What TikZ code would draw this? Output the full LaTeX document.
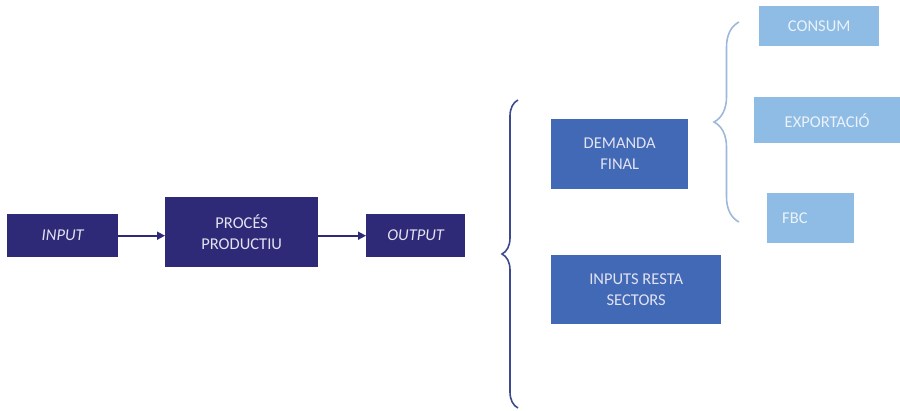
\documentclass[tikz,border=0pt]{standalone}
\usepackage{fontspec}
\setmainfont{Carlito}
\usetikzlibrary{arrows.meta,decorations.pathreplacing}
\definecolor{navy}{HTML}{2E2A78}
\definecolor{midblue}{HTML}{4169B5}
\definecolor{lightblue}{HTML}{8FBCE4}
\definecolor{bracedark}{HTML}{3D4B8E}
\definecolor{bracelight}{HTML}{9DB8DA}
\definecolor{darktext}{HTML}{E2E2F2}
\definecolor{lighttext}{HTML}{EAF2FB}
\tikzset{
  box/.style={draw=none, font=\fontsize{16.5}{21}\selectfont, align=center, inner sep=0pt},
  darkbox/.style={box, fill=navy, text=darktext},
  midbox/.style={box, fill=midblue, text=darktext},
  lightbox/.style={box, fill=lightblue, text=lighttext},
  flow/.style={draw=navy, line width=1.6pt, -{Triangle[length=8pt,width=8pt]}},
  bigbrace/.style={draw=bracedark, line width=1.6pt, decorate, decoration={brace, amplitude=16pt}},
  smallbrace/.style={draw=bracelight, line width=1.6pt, decorate, decoration={brace, amplitude=25pt}}
}
\begin{document}
\begin{tikzpicture}[x=1pt,y=-1pt]
\useasboundingbox (0,0) rectangle (900,410);
\node[darkbox, minimum width=111pt, minimum height=43pt, anchor=north west] (input) at (7,214) {\itshape INPUT};
\node[darkbox, minimum width=153pt, minimum height=70pt, anchor=north west] (proc) at (165,197) {PROCÉS\\PRODUCTIU};
\node[darkbox, minimum width=99pt, minimum height=43pt, anchor=north west] (output) at (366,214) {\itshape OUTPUT};
\draw[flow] (input.east) -- (proc.west |- input.east);
\draw[flow] (proc.east |- output.west) -- (output.west);

\coordinate (b1top) at (518,100);
\coordinate (b1bot) at (518,408);
\draw[bigbrace] (b1bot) -- (b1top);

\node[midbox, minimum width=137pt, minimum height=70pt, anchor=north west] (demanda) at (551,119) {DEMANDA\\FINAL};
\node[midbox, minimum width=170pt, minimum height=69pt, anchor=north west] (inputs) at (551,255) {INPUTS RESTA\\SECTORS};

\coordinate (b2top) at (739,22);
\coordinate (b2bot) at (739,222);
\draw[smallbrace] (b2bot) -- (b2top);

\node[lightbox, minimum width=120pt, minimum height=40pt, anchor=north west] (consum) at (759,6) {CONSUM};
\node[lightbox, minimum width=146pt, minimum height=46pt, anchor=north west] (export) at (754,97) {EXPORTACIÓ};
\node[lightbox, minimum width=87pt, minimum height=50pt, anchor=north west, text width=57pt, align=left] (fbc) at (767,193) {FBC};
\end{tikzpicture}
\end{document}
